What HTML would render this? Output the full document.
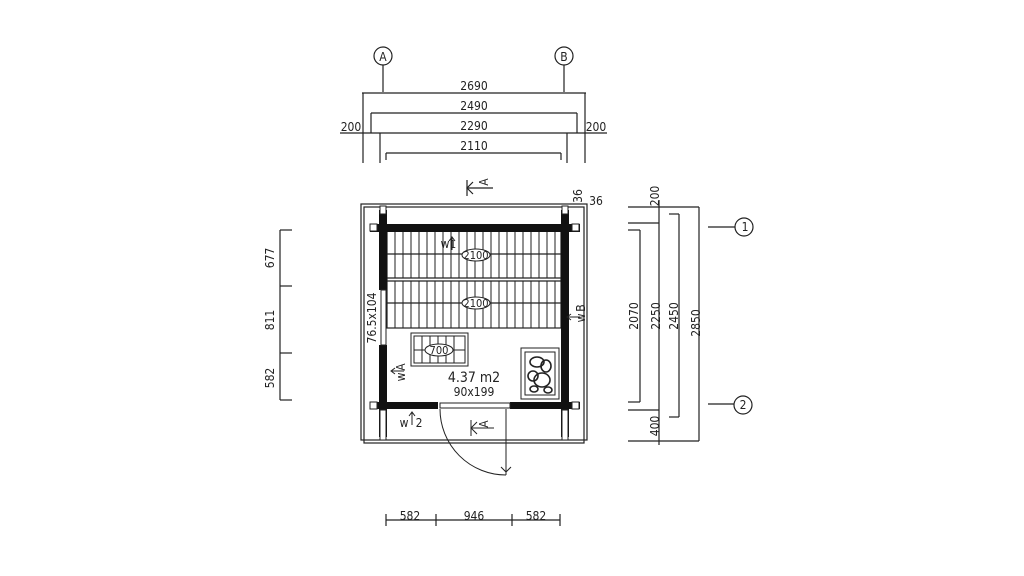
<!DOCTYPE html>
<html><head><style>body{margin:0;background:#fff}svg{display:block}text{font-family:"DejaVu Sans Condensed","Liberation Sans Narrow","Liberation Sans",sans-serif;fill:#222}</style></head>
<body>
<svg width="1024" height="576" viewBox="0 0 1024 576" xmlns="http://www.w3.org/2000/svg">
<g stroke="#222" stroke-width="1.2" fill="none">
<circle cx="383" cy="56" r="9"/><circle cx="564" cy="56" r="9"/>
<line x1="383" y1="65" x2="383" y2="92"/><line x1="564" y1="65" x2="564" y2="92"/>
<line x1="362" y1="93" x2="586" y2="93"/>
<line x1="371" y1="113" x2="577" y2="113"/><line x1="371" y1="113" x2="371" y2="133"/><line x1="577" y1="113" x2="577" y2="133"/>
<line x1="340" y1="133" x2="607" y2="133"/>
<line x1="363" y1="93" x2="363" y2="163"/><line x1="585" y1="93" x2="585" y2="163"/>
<line x1="380" y1="133" x2="380" y2="163"/><line x1="567" y1="133" x2="567" y2="163"/>
<line x1="386" y1="153" x2="561" y2="153"/><line x1="386" y1="153" x2="386" y2="160"/><line x1="561" y1="153" x2="561" y2="160"/>
<line x1="467" y1="180" x2="467" y2="196"/><line x1="467" y1="188" x2="493" y2="188"/><polyline points="473,182 467,188 473,194"/>
<rect x="361" y="204" width="226" height="236"/>
<rect x="364" y="207" width="220" height="236"/>
<line x1="280" y1="230" x2="280" y2="400"/>
<line x1="280" y1="230" x2="292" y2="230"/><line x1="280" y1="286" x2="292" y2="286"/><line x1="280" y1="353" x2="292" y2="353"/><line x1="280" y1="400" x2="292" y2="400"/>
<line x1="628" y1="207" x2="699" y2="207"/><line x1="628" y1="223" x2="659" y2="223"/>
<line x1="628" y1="410" x2="659" y2="410"/><line x1="628" y1="441" x2="699" y2="441"/>
<line x1="640" y1="230" x2="640" y2="402"/><line x1="628" y1="230" x2="640" y2="230"/><line x1="628" y1="402" x2="640" y2="402"/>
<line x1="659" y1="200" x2="659" y2="445"/>
<line x1="679" y1="214" x2="679" y2="417"/><line x1="669" y1="214" x2="679" y2="214"/><line x1="669" y1="417" x2="679" y2="417"/>
<line x1="699" y1="207" x2="699" y2="441"/>
<line x1="708" y1="227" x2="735" y2="227"/><circle cx="744" cy="227" r="9"/>
<line x1="708" y1="404" x2="734" y2="404"/><circle cx="743" cy="405" r="9"/>
<line x1="386" y1="520" x2="560" y2="520"/>
<line x1="386" y1="514" x2="386" y2="526"/><line x1="436" y1="514" x2="436" y2="526"/><line x1="512" y1="514" x2="512" y2="526"/><line x1="560" y1="514" x2="560" y2="526"/>
<rect x="387" y="231" width="174" height="97"/>
<line x1="387" y1="254" x2="561" y2="254"/><line x1="387" y1="278" x2="561" y2="278"/><line x1="387" y1="281" x2="561" y2="281"/><line x1="387" y1="303" x2="561" y2="303"/>
</g>
<g stroke="#222" stroke-width="1">
<path d="M395 231V278M403 231V278M411 231V278M419 231V278M427 231V278M435 231V278M443 231V278M451 231V278M459 231V278M467 231V278M475 231V278M483 231V278M491 231V278M499 231V278M507 231V278M515 231V278M523 231V278M531 231V278M539 231V278M547 231V278M555 231V278"/>
<path d="M395 281V328M403 281V328M411 281V328M419 281V328M427 281V328M435 281V328M443 281V328M451 281V328M459 281V328M467 281V328M475 281V328M483 281V328M491 281V328M499 281V328M507 281V328M515 281V328M523 281V328M531 281V328M539 281V328M547 281V328M555 281V328"/>
</g>
<g fill="#111">
<rect x="370" y="224" width="210" height="8"/>
<rect x="379" y="210" width="8" height="80"/>
<rect x="379" y="345" width="8" height="92"/>
<rect x="370" y="402" width="68" height="7"/>
<rect x="510" y="402" width="70" height="7"/>
<rect x="561" y="210" width="8" height="227"/>
</g>
<g stroke="#222" stroke-width="1" fill="#fff">
<rect x="380" y="206" width="6" height="8"/><rect x="562" y="206" width="6" height="8"/>
<rect x="370" y="224" width="7" height="7"/><rect x="572" y="224" width="7" height="7"/>
<rect x="370" y="402" width="7" height="7"/><rect x="572" y="402" width="7" height="7"/>
<rect x="380" y="410" width="6" height="30"/><rect x="562" y="410" width="6" height="30"/>
<rect x="381" y="290" width="5" height="55"/>
<rect x="440" y="403" width="70" height="5"/>
<rect x="411" y="333" width="57" height="33"/>
<rect x="414" y="336" width="51" height="27"/>
<rect x="521" y="348" width="38" height="51"/>
<rect x="525" y="352" width="30" height="43"/>
</g>
<g stroke="#222" stroke-width="1" fill="none">
<path d="M422 336V363M430 336V363M438 336V363M446 336V363M454 336V363M414 350H465"/>
<path d="M440 409 A66 66 0 0 0 506 475"/>
<line x1="506" y1="409" x2="506" y2="475"/>
<path d="M501 467 L506 472 L511 467"/>
<line x1="471" y1="420" x2="471" y2="436"/><line x1="471" y1="428" x2="494" y2="428"/><polyline points="477,422 471,428 477,434"/>
<g stroke-width="1.6"><ellipse cx="537" cy="362" rx="7" ry="5"/><ellipse cx="546" cy="366" rx="5" ry="6"/><ellipse cx="533" cy="376" rx="5" ry="5"/><ellipse cx="542" cy="380" rx="8" ry="7"/><ellipse cx="534" cy="389" rx="4" ry="3"/><ellipse cx="548" cy="390" rx="4" ry="3"/></g>
</g>
<g fill="#fff" stroke="#222" stroke-width="1">
<ellipse cx="476" cy="255" rx="14" ry="6"/><ellipse cx="476" cy="303" rx="14" ry="6"/><ellipse cx="439" cy="350" rx="14" ry="6"/>
</g>
<g font-size="12" text-anchor="middle">
<text x="383" y="61">A</text><text x="564" y="61">B</text>
<text x="474" y="90">2690</text><text x="474" y="110">2490</text><text x="474" y="130">2290</text><text x="474" y="150">2110</text>
<text x="351" y="131">200</text><text x="596" y="131">200</text>
<text x="476" y="259" font-size="11">2100</text><text x="476" y="307" font-size="11">2100</text><text x="439" y="354" font-size="11">700</text>
<text x="474" y="382" font-size="14">4.37 m2</text><text x="474" y="396">90x199</text>
<text x="410" y="520">582</text><text x="474" y="520">946</text><text x="536" y="520">582</text>
<text x="745" y="231">1</text><text x="743" y="409">2</text>
<text x="596" y="205">36</text>
<text x="445" y="248">w</text><text x="453" y="248" font-size="11">1</text>
<text x="404" y="427">w</text><text x="419" y="427">2</text>
<text transform="translate(274,258) rotate(-90)">677</text>
<text transform="translate(274,320) rotate(-90)">811</text>
<text transform="translate(274,378) rotate(-90)">582</text>
<text transform="translate(376,318) rotate(-90)">76.5x104</text>
<text transform="translate(638,316) rotate(-90)">2070</text>
<text transform="translate(660,316) rotate(-90)">2250</text>
<text transform="translate(678,316) rotate(-90)">2450</text>
<text transform="translate(700,323) rotate(-90)">2850</text>
<text transform="translate(659,196) rotate(-90)">200</text>
<text transform="translate(659,426) rotate(-90)">400</text>
<text transform="translate(582,196) rotate(-90)">36</text>
<text transform="translate(488,182) rotate(-90)">A</text>
<text transform="translate(488,424) rotate(-90)">A</text>
<text transform="translate(405,377) rotate(-90)">w</text><text transform="translate(405,367) rotate(-90)">A</text>
<text transform="translate(585,318) rotate(-90)">w</text><text transform="translate(585,308) rotate(-90)">B</text>
</g>
<g stroke="#222" stroke-width="1" fill="none">
<path d="M452 238V250M449 241L452 237L455 241"/>
<path d="M412 413V425M409 416L412 412L415 416"/>
<path d="M392 371H404M395 368L391 371L395 374"/>
<path d="M568 317H580M571 314L567 317L571 320"/>
</g>
</svg>
</body></html>
